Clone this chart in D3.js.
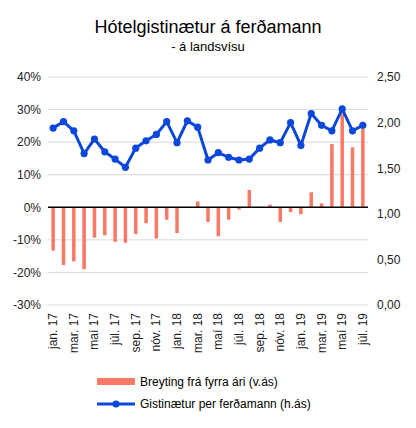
<!DOCTYPE html><html><head><meta charset="utf-8"><script src="https://cdn.jsdelivr.net/npm/d3@7"></script>
<style>body{margin:0;background:#fff}text{font-family:"Liberation Sans",Arial,sans-serif}</style></head><body><svg id="c" width="416" height="428"></svg><script>
const months=["jan.17","feb.17","mar.17","apr.17","maí 17","jún.17","júl.17","ágú.17","sep.17","okt.17","nóv.17","des.17","jan.18","feb.18","mar.18","apr.18","maí 18","jún.18","júl.18","ágú.18","sep.18","okt.18","nóv.18","des.18","jan.19","feb.19","mar.19","apr.19","maí 19","jún.19","júl.19"];
const tickLabels=["jan. 17","mar. 17","maí 17","júl. 17","sep. 17","nóv. 17","jan. 18","mar. 18","maí 18","júl. 18","sep. 18","nóv. 18","jan. 19","mar. 19","maí 19","júl. 19"];
const change=[-13.3,-17.7,-16.6,-19,-9.3,-8.6,-10.6,-10.9,-8.2,-4.9,-9.6,-3.8,-7.9,0,1.8,-4.5,-8.9,-3.8,-0.7,5.3,0,0.8,-4.5,-1.5,-2.1,4.6,1.2,19.4,28.8,18.4,24.2];
const nights=[1.94,2.01,1.91,1.66,1.82,1.68,1.60,1.51,1.72,1.80,1.87,2.01,1.78,2.02,1.95,1.59,1.67,1.62,1.59,1.60,1.72,1.81,1.78,2.00,1.75,2.10,1.97,1.91,2.15,1.91,1.97];
const svg=d3.select("#c");
const L=48,R=368,T=77,B=305;
const x=d3.scaleBand().domain(months).range([L,R]);
const yl=d3.scaleLinear().domain([-30,40]).range([B,T]);
const yr=d3.scaleLinear().domain([0,2.5]).range([B,T]);
svg.append("text").attr("x",208).attr("y",33).attr("text-anchor","middle").attr("font-size",18).text("Hótelgistinætur á ferðamann");
svg.append("text").attr("x",208).attr("y",51).attr("text-anchor","middle").attr("font-size",13).text("- á landsvísu");
yl.ticks(7).forEach(t=>svg.append("line").attr("x1",L).attr("x2",R).attr("y1",yl(t)).attr("y2",yl(t)).attr("stroke","#d9d9d9"));
const ga=svg.append("g").attr("transform",`translate(${L-4},0)`).call(d3.axisLeft(yl).ticks(7).tickFormat(d=>d+"%").tickSize(0));
const gb=svg.append("g").attr("transform",`translate(${R+6},0)`).call(d3.axisRight(yr).ticks(5).tickFormat(d=>d3.format(".2f")(d).replace(".",",")).tickSize(0));
[ga,gb].forEach(g=>{g.select(".domain").remove();g.selectAll("text").attr("font-size",12).attr("fill","#222")});
svg.selectAll(".bar").data(change).enter().append("rect").attr("fill","#f87a66")
 .attr("x",(d,i)=>x(months[i])+x.bandwidth()*0.33).attr("width",x.bandwidth()*0.34)
 .attr("y",d=>yl(Math.max(0,d))).attr("height",d=>Math.abs(yl(d)-yl(0)));
svg.append("line").attr("x1",L).attr("x2",R).attr("y1",yl(0)).attr("y2",yl(0)).attr("stroke","#000").attr("stroke-width",1.5);
const cx=i=>x(months[i])+x.bandwidth()/2;
svg.append("path").datum(nights).attr("fill","none").attr("stroke","#0b47d9").attr("stroke-width",3).attr("d",d3.line().x((d,i)=>cx(i)).y(d=>yr(d)));
svg.selectAll(".pt").data(nights).enter().append("circle").attr("cx",(d,i)=>cx(i)).attr("cy",d=>yr(d)).attr("r",3.6).attr("fill","#0b47d9");
tickLabels.forEach((t,k)=>{const xx=cx(k*2);svg.append("text").attr("transform",`translate(${xx+4},${B+8}) rotate(-90)`).attr("text-anchor","end").attr("font-size",12).attr("fill","#222").text(t)});
svg.append("rect").attr("x",97).attr("y",378).attr("width",38).attr("height",7).attr("fill","#f87a66");
svg.append("text").attr("x",140).attr("y",386).attr("font-size",12).text("Breyting frá fyrra ári (v.ás)");
svg.append("line").attr("x1",97).attr("x2",135).attr("y1",404).attr("y2",404).attr("stroke","#0b47d9").attr("stroke-width",3);
svg.append("circle").attr("cx",116).attr("cy",404).attr("r",3.6).attr("fill","#0b47d9");
svg.append("text").attr("x",140).attr("y",408).attr("font-size",12).text("Gistinætur per ferðamann (h.ás)");
</script></body></html>
